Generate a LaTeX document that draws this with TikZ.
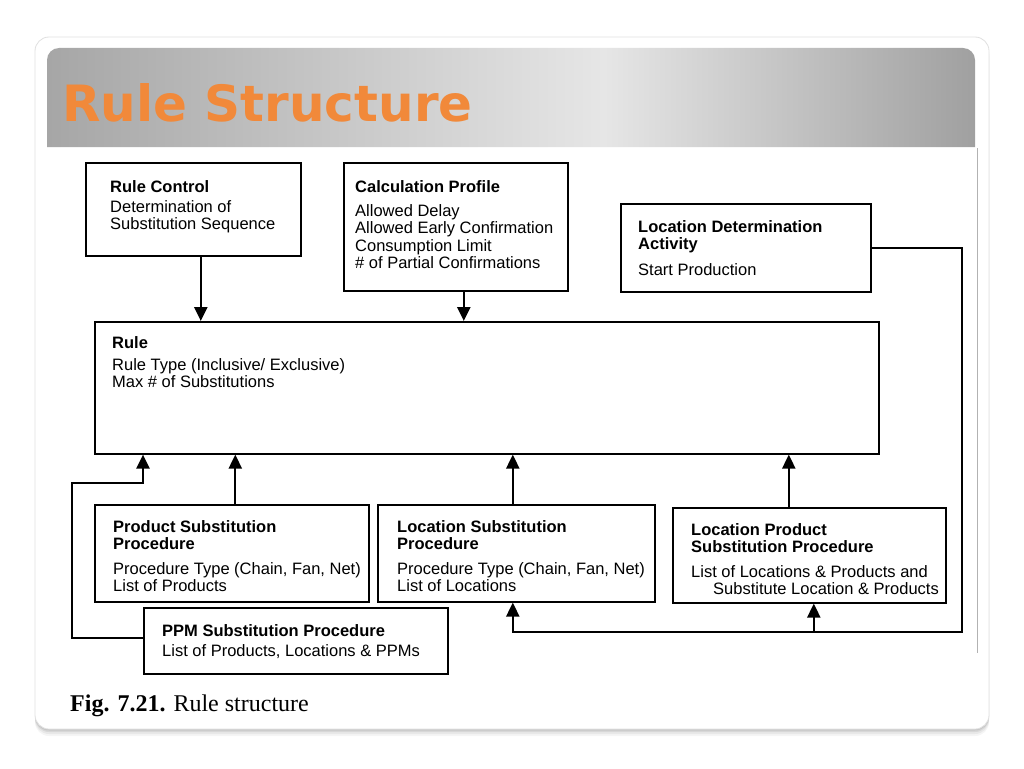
\documentclass[tikz,border=0pt]{standalone}
\usepackage{fontspec}
\setmainfont{Liberation Sans}
\newfontfamily\titlefont{DejaVu Sans}
\newfontfamily\capfont{Liberation Serif}
\usetikzlibrary{arrows.meta}
\definecolor{bandL}{RGB}{166,166,166}
\definecolor{bandM}{RGB}{230,230,230}
\definecolor{bandR}{RGB}{160,160,160}
\definecolor{titleorange}{RGB}{241,137,58}
\pgfdeclarehorizontalshading{bandshade}{100bp}{color(0bp)=(bandL); color(25bp)=(bandL); color(55bp)=(bandM); color(75bp)=(bandR); color(100bp)=(bandR)}
\tikzset{
  box/.style={draw=black, line width=1.6pt, fill=white, anchor=north west, inner sep=0pt},
  txt/.style={anchor=north west, inner sep=0pt, align=left, font=\fontsize{16.5}{17.5}\selectfont},
  arr/.style={draw=black, line width=2.3pt, -{Triangle[width=13pt,length=14pt]}},
}
\begin{document}
\begin{tikzpicture}[x=1pt,y=-1pt]
\useasboundingbox (0,0) rectangle (1024,768);
\fill[white] (0,0) rectangle (1024,768);
% card with shadow
\foreach \o/\op in {7/0.04,5/0.05,3/0.07,1.5/0.08}
  \fill[black, opacity=\op, rounded corners=14pt] (35,37+\o) rectangle (989,729+\o);
\draw[draw=black!12, line width=0.8pt, fill=white, rounded corners=14pt] (35,37) rectangle (989,729);
% title band
\shade[shading=bandshade] (47,147) {[rounded corners=12pt] -- (47,48) -- (975,48)} -- (975,147) -- cycle;
\node[anchor=base west, inner sep=0pt, font=\titlefont\bfseries\fontsize{50}{60}\selectfont, text=titleorange] (title) at (62,121) {Rule Structure};
% scan edge
\draw[black!30, line width=1pt] (977,148) -- (977,653);

% boxes
\node[box, minimum width=215pt, minimum height=93pt] (rc) at (85,162) {};
\node[box, minimum width=224pt, minimum height=128pt] (cp) at (343,162) {};
\node[box, minimum width=250pt, minimum height=88pt] (ld) at (620,203) {};
\node[box, minimum width=784pt, minimum height=132pt] (rule) at (94,321) {};
\node[box, minimum width=274pt, minimum height=97pt] (ps) at (94,504) {};
\node[box, minimum width=277pt, minimum height=97pt] (ls) at (377,504) {};
\node[box, minimum width=273pt, minimum height=95pt] (lp) at (672,507) {};
\node[box, minimum width=304pt, minimum height=66pt] (ppm) at (143,607) {};

% texts
\node[txt] (rct) at (110,180) {\textbf{Rule Control}\\[2.5pt]Determination of\\Substitution Sequence};
\node[txt] (cpt) at (355,180) {\textbf{Calculation Profile}\\[6.5pt]Allowed Delay\\Allowed Early Confirmation\\Consumption Limit\\\# of Partial Confirmations};
\node[txt] (ldt) at (638,220) {\textbf{Location Determination}\\\textbf{Activity}\\[8pt]Start Production};
\node[txt] (rulet) at (112,336) {\textbf{Rule}\\[4.5pt]Rule Type (Inclusive/ Exclusive)\\Max \# of Substitutions};
\node[txt] (pst) at (113,520) {\textbf{Product Substitution}\\\textbf{Procedure}\\[7pt]Procedure Type (Chain, Fan, Net)\\List of Products};
\node[txt] (lst) at (397,520) {\textbf{Location Substitution}\\\textbf{Procedure}\\[7pt]Procedure Type (Chain, Fan, Net)\\List of Locations};
\node[txt] (lpt) at (691,523) {\textbf{Location Product}\\\textbf{Substitution Procedure}\\[7pt]List of Locations \& Products and\\\hspace*{22pt}Substitute Location \& Products};
\node[txt] (ppmt) at (162,624) {\textbf{PPM Substitution Procedure}\\[2.5pt]List of Products, Locations \& PPMs};

% connectors
\draw[arr] ([xshift=7.5pt]rc.south) -- ([xshift=7.5pt]rc.south |- rule.north);
\draw[arr] ([xshift=8pt]cp.south) -- ([xshift=8pt]cp.south |- rule.north);
\draw[arr] ([xshift=3.5pt]ps.north) -- ([xshift=3.5pt]ps.north |- rule.south);
\draw[arr] ([xshift=-3.5pt]ls.north) -- ([xshift=-3.5pt]ls.north |- rule.south);
\draw[arr] ([xshift=-20.5pt]lp.north) -- ([xshift=-20.5pt]lp.north |- rule.south);

\coordinate (ppmbendA) at (72,483);
\coordinate (ppmbendB) at (143,483);
\draw[arr] ([yshift=2.5pt]ppm.west) -| (ppmbendA) -- (ppmbendB) -- (ppmbendB |- rule.south);

\coordinate (ldbend) at (962,632);
\draw[arr] (ld.east) -| (ldbend) -| ([xshift=-3.5pt]ls.south);
\draw[arr] ([xshift=4.5pt]lp.south |- ldbend) -- ([xshift=4.5pt]lp.south);

% caption
\node[anchor=base west, inner sep=0pt, font=\capfont\fontsize{24}{28}\selectfont] (caption) at (70,711) {\textbf{Fig. 7.21.} Rule structure};
\end{tikzpicture}
\end{document}
